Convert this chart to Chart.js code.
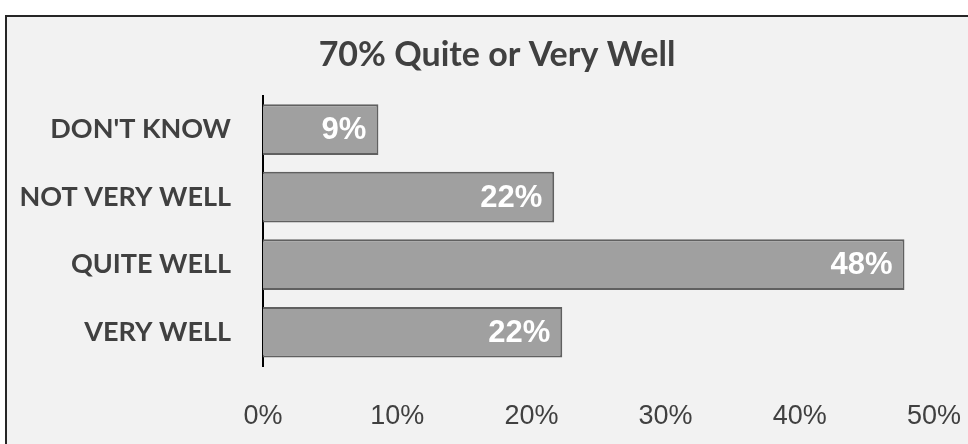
<!DOCTYPE html>
<html lang="en">
<head>
  <meta charset="UTF-8">
  <title>70% Quite or Very Well</title>
  <script src="https://cdn.jsdelivr.net/npm/chart.js"></script>
  <style>
    body {
      margin: 0;
      background: #ffffff;
      overflow: hidden;
    }

    .frame {
      position: absolute;
      left: 5px;
      top: 15px;
      width: 1000px;
      height: 500px;
      border: 2px solid #262626;
      background: #f2f2f2;
    }

    .wrap {
      position: absolute;
      left: 0;
      top: 0;
      width: 990px;
      height: 444px;
    }
  </style>
</head>
<body>
  <div class="frame"></div>
  <div class="wrap"><canvas id="chart" width="990" height="444"></canvas></div>

  <script>
    const categories = ["DON'T KNOW", 'NOT VERY WELL', 'QUITE WELL', 'VERY WELL'];
    const shares = [8.6, 21.7, 47.8, 22.3];
    const tickValues = [0, 10, 20, 30, 40, 50];

    // white value labels inside the end of each bar
    const barLabels = {
      id: 'barLabels',
      afterDatasetsDraw(chart) {
        const ctx = chart.ctx;
        const meta = chart.getDatasetMeta(0);
        ctx.save();
        ctx.fillStyle = '#ffffff';
        ctx.font = 'bold 31px "Liberation Sans", Arial, sans-serif';
        ctx.textAlign = 'right';
        ctx.textBaseline = 'middle';
        meta.data.forEach((bar, i) => {
          ctx.fillText(Math.round(shares[i]) + '%', bar.x - 12, bar.y + 1);
        });
        ctx.restore();
      }
    };

    new Chart(document.getElementById('chart'), {
      type: 'bar',
      data: {
        labels: categories,
        datasets: [{
          data: shares,
          backgroundColor: '#a0a0a0',
          borderColor: '#606060',
          borderWidth: 2,
          categoryPercentage: 1,
          barPercentage: 0.75
        }]
      },
      options: {
        indexAxis: 'y',
        responsive: false,
        animation: false,
        layout: { padding: { left: 18, right: 14, top: 0, bottom: 0 } },
        plugins: {
          legend: { display: false },
          tooltip: { enabled: false },
          title: {
            display: true,
            text: '70% Quite or Very Well',
            color: '#404040',
            font: { family: 'Lato, "Open Sans", sans-serif', size: 34, weight: 'bold' },
            padding: { top: 35, bottom: 20 }
          }
        },
        scales: {
          x: {
            min: 0,
            max: 50,
            afterBuildTicks(scale) {
              scale.ticks = tickValues.map(v => ({ value: v }));
            },
            afterFit(scale) {
              scale.height = 78;
              scale.paddingLeft = 0;
              scale.paddingRight = 56;
            },
            grid: { display: false, drawTicks: false },
            border: { display: false },
            ticks: {
              padding: 34,
              color: '#404040',
              font: { family: '"Liberation Sans Narrow", "Arial Narrow", "Liberation Sans", sans-serif', size: 27 },
              callback: v => v + '%'
            }
          },
          y: {
            afterFit(scale) { scale.width = 245; },
            grid: { display: false, drawTicks: false },
            border: { display: true, color: '#000000', width: 2 },
            ticks: {
              padding: 32,
              color: '#404040',
              font: { family: 'Lato, "Open Sans", sans-serif', size: 27, weight: 'bold' }
            }
          }
        }
      },
      plugins: [barLabels]
    });
  </script>
</body>
</html>
